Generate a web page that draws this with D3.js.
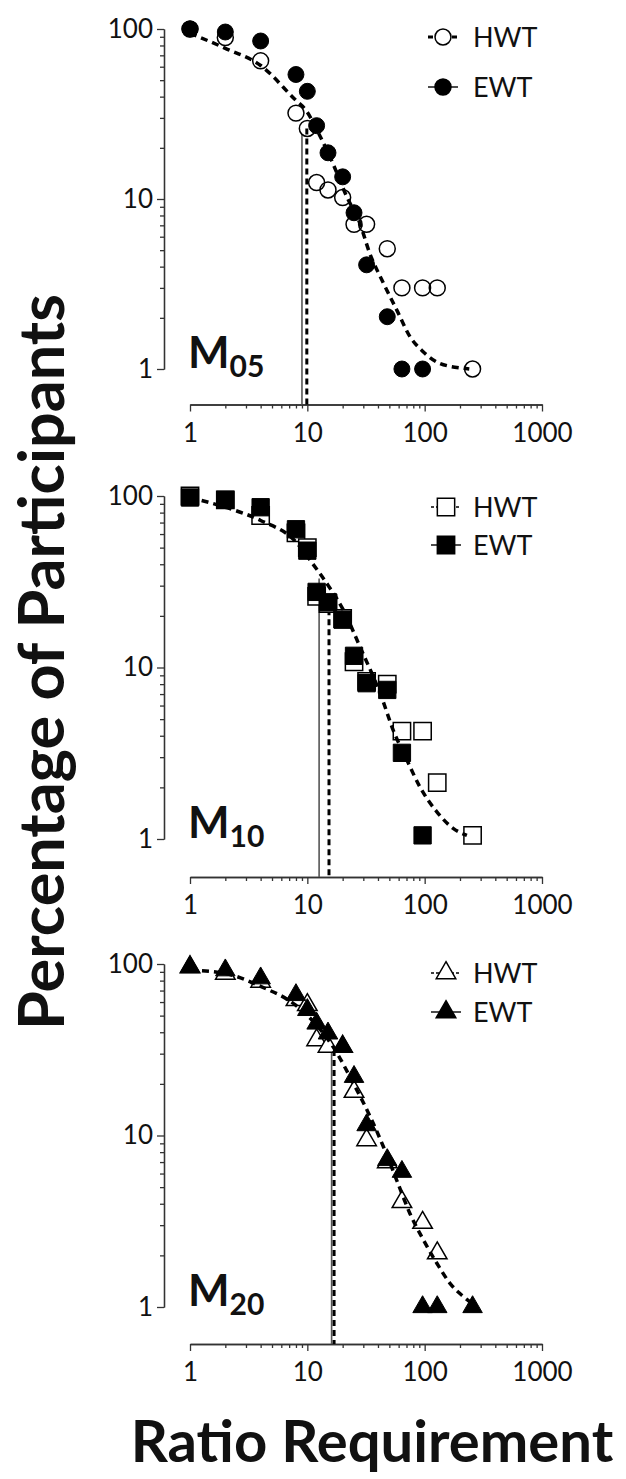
<!DOCTYPE html>
<html>
<head>
<meta charset="utf-8">
<script src="https://cdn.jsdelivr.net/npm/d3@7"></script>
<style>
  body { margin: 0; background: #fff; }
  svg { display: block; font-family: Lato, "Open Sans", sans-serif; }
  .tick text { font-family: Lato, sans-serif; }
</style>
</head>
<body>
<div id="area"></div>
<script>
// ratio requirement values (x) and % of participants (y)
let hwt05X = [1, 2, 4, 8, 10, 12, 15, 20, 25, 32, 48, 64, 96, 128, 256]
let hwt05Y = [100, 89, 65, 32, 26, 12.5, 11.3, 10.2, 7.1, 7.1, 5.1, 3, 3, 3, 1]
let ewt05X = [1, 2, 4, 8, 10, 12, 15, 20, 25, 32, 48, 64, 96]
let ewt05Y = [100, 96, 85, 54, 43, 27, 18.7, 13.5, 8.3, 4.1, 2.03, 1, 1]
let fit05X = [1, 2, 4, 8, 9.7, 12.5, 15.6, 21.7, 28, 34, 44.5, 57.9, 75, 97.6, 134, 214, 240]
let fit05Y = [94.4, 77, 61, 38, 33.4, 24.3, 17.7, 10.3, 7.2, 4.8, 3.2, 2.22, 1.55, 1.26, 1.08, 1.01, 1.0]

let hwt10X = [1, 2, 4, 8, 10, 12, 15, 20, 25, 32, 48, 64, 96, 128, 256]
let hwt10Y = [100, 95, 77, 61, 50, 26, 23.6, 19.3, 10.8, 8.3, 8.0, 4.26, 4.26, 2.13, 1.05]
let ewt10X = [1, 2, 4, 8, 10, 12, 15, 20, 25, 32, 48, 64, 96]
let ewt10Y = [98, 95, 86, 64, 48, 27.6, 24, 19, 11.7, 8.1, 7.4, 3.18, 1.05]
let fit10X = [1, 2, 4, 8, 10.9, 15.1, 20.3, 28.1, 43, 54, 70.4, 91.5, 127, 176, 229]
let fit10Y = [97.8, 86, 72, 54, 41, 30, 21.6, 13.2, 6.7, 4.3, 2.9, 2.0, 1.44, 1.15, 1.05]

let hwt20X = [1, 2, 4, 8, 10, 12, 15, 20, 25, 32, 48, 64, 96, 128]
let hwt20Y = [96, 88, 79, 61.7, 57.7, 36, 33, 33, 18, 9.4, 7.0, 4.1, 3.1, 2.06]
let ewt20X = [1, 2, 4, 8, 10, 12, 15, 20, 25, 32, 48, 64, 96, 128, 256]
let ewt20Y = [96, 92, 82.6, 66, 54, 45, 39.4, 33, 22, 11.5, 7.2, 6.15, 1, 1, 1]
let fit20X = [1, 2, 4, 7.9, 12, 17.2, 24.7, 34.3, 44.5, 57.7, 75, 97.6, 127, 165, 214, 252]
let fit20Y = [92, 88, 74, 57.7, 44, 31.6, 20.1, 12.9, 8.6, 5.5, 3.5, 2.46, 1.8, 1.37, 1.15, 1.05]

// vertical reference lines: [x, top y] for HWT (solid) and EWT (dashed)
let refHwt = [[9.0, 24], [12.6, 33], [16.1, 31.5]]
let refEwt = [[9.9, 26], [15.3, 25], [16.9, 31.5]]

let panelNames = ['05', '10', '20']
let seriesNames = ['HWT', 'EWT']
let xMajor = [1, 10, 100, 1000]
let yMajor = [1, 10, 100]

let width = 626
let height = 1479
let panel_tops = [29, 496, 964]
let panel_heights = [340, 343, 343]
let axis_gaps = [35.5, 38, 37]
let legend_rows = [[37, 87], [507, 545], [973, 1012]]
let shapes = [d3.symbolCircle, d3.symbolSquare, d3.symbolTriangle]
let shape_sizes = [200, 300, 165]

let hwtX = [hwt05X, hwt10X, hwt20X], hwtY = [hwt05Y, hwt10Y, hwt20Y]
let ewtX = [ewt05X, ewt10X, ewt20X], ewtY = [ewt05Y, ewt10Y, ewt20Y]
let fitX = [fit05X, fit10X, fit20X], fitY = [fit05Y, fit10Y, fit20Y]

let svg = d3.select('#area').append('svg')
  .attr('width', width).attr('height', height)

svg.append('rect').attr('width', width).attr('height', height).attr('fill', '#fff')

let x = d3.scaleLog().domain([1, 1000]).range([190, 542])

function minorTicks(lo, hi) {
  let out = []
  for (let d = lo; d < hi; d *= 10)
    for (let k = 2; k <= 9; k++) out.push(d * k)
  return out
}

function zip(xs, ys) { return xs.map((v, i) => [v, ys[i]]) }

panelNames.forEach(function(name, p) {
  let top = panel_tops[p]
  let y = d3.scaleLog().domain([1, 100]).range([top + panel_heights[p], top])
  let axisY = y(1) + axis_gaps[p]
  let g = svg.append('g')

  // x axis
  let gx = g.append('g').attr('transform', 'translate(0,' + axisY + ')')
  gx.append('g').call(d3.axisBottom(x).tickValues(minorTicks(1, 1000)).tickSize(4).tickSizeOuter(0).tickFormat(''))
  gx.append('g').call(d3.axisBottom(x).tickValues(xMajor).tickSize(7).tickSizeOuter(0).tickPadding(12).tickFormat(d3.format('d')))
  // y axis
  let gy = g.append('g').attr('transform', 'translate(164,0)')
  gy.append('g').call(d3.axisLeft(y).tickValues(minorTicks(1, 100)).tickSize(4).tickSizeOuter(0).tickFormat(''))
  gy.append('g').call(d3.axisLeft(y).tickValues(yMajor).tickSize(7).tickSizeOuter(0).tickPadding(4).tickFormat(d3.format('d')))

  g.selectAll('.domain, .tick line').attr('stroke', '#333').attr('stroke-width', 1.3)
  g.selectAll('.tick text').attr('font-size', 26).attr('fill', '#111')

  // reference lines
  g.append('line')
    .attr('x1', x(refHwt[p][0])).attr('x2', x(refHwt[p][0]))
    .attr('y1', y(refHwt[p][1])).attr('y2', axisY)
    .attr('stroke', '#555').attr('stroke-width', 1.6)
  g.append('line')
    .attr('x1', x(refEwt[p][0])).attr('x2', x(refEwt[p][0]))
    .attr('y1', y(refEwt[p][1])).attr('y2', axisY)
    .attr('stroke', '#000').attr('stroke-width', 3).attr('stroke-dasharray', '6,4')

  let sym = d3.symbol().type(shapes[p]).size(shape_sizes[p])
  let hwt = zip(hwtX[p], hwtY[p])
  let ewt = zip(ewtX[p], ewtY[p])

  // circles: open markers drawn over the filled ones; squares/triangles the other way round
  let drawHwt = function() {
    g.append('g').selectAll('path').data(hwt).join('path')
      .attr('d', sym)
      .attr('transform', d => 'translate(' + x(d[0]) + ',' + y(d[1]) + ')')
      .attr('fill', p == 0 ? 'none' : '#fff').attr('stroke', '#000').attr('stroke-width', 1.5)
  }
  let drawEwt = function() {
    g.append('g').selectAll('path').data(ewt).join('path')
      .attr('d', sym)
      .attr('transform', d => 'translate(' + x(d[0]) + ',' + y(d[1]) + ')')
      .attr('fill', '#000').attr('stroke', '#000').attr('stroke-width', 1)
  }
  if (p == 0) { drawEwt(); drawHwt() } else { drawHwt(); drawEwt() }

  // fitted curve
  let line = d3.line().x(d => x(d[0])).y(d => y(d[1])).curve(d3.curveMonotoneX)
  g.append('path').datum(zip(fitX[p], fitY[p]))
    .attr('d', line).attr('fill', 'none')
    .attr('stroke', '#000').attr('stroke-width', 3.5).attr('stroke-dasharray', '7,5')

  // panel label
  let lab = g.append('text').attr('x', 188).attr('y', y(1) - 1)
    .attr('font-size', 44).attr('font-weight', 'bold').attr('fill', '#111')
  lab.append('tspan').text('M')
  lab.append('tspan').attr('font-size', 30).attr('dy', 9).text(name)

  // legend
  seriesNames.forEach(function(s, i) {
    let ly = legend_rows[p][i]
    let cx = p == 0 ? 443 : 446
    g.append('line').attr('x1', cx - 15).attr('x2', cx + 15).attr('y1', ly).attr('y2', ly)
      .attr('stroke', '#000')
      .attr('stroke-width', i == 0 && p == 0 ? 3 : 1.4)
      .attr('stroke-dasharray', i == 0 ? (p == 0 ? '5,3' : '3,2') : null)
    g.append('path').attr('d', sym).attr('transform', 'translate(' + cx + ',' + ly + ')')
      .attr('fill', i == 0 ? '#fff' : '#000').attr('stroke', '#000').attr('stroke-width', 1.5)
    g.append('text').attr('x', 473).attr('y', ly).attr('dy', '0.36em')
      .attr('font-size', 27).attr('fill', '#111').text(s)
  })
})

// axis titles
svg.append('text')
  .attr('transform', 'translate(64,662) rotate(-90)')
  .attr('text-anchor', 'middle')
  .attr('font-size', 63).attr('font-weight', 'bold').attr('fill', '#111')
  .text('Percentage of Participants')

svg.append('text')
  .attr('x', 372).attr('y', 1462)
  .attr('text-anchor', 'middle')
  .attr('font-size', 58).attr('font-weight', 'bold').attr('fill', '#111')
  .text('Ratio Requirement')
</script>
</body>
</html>
